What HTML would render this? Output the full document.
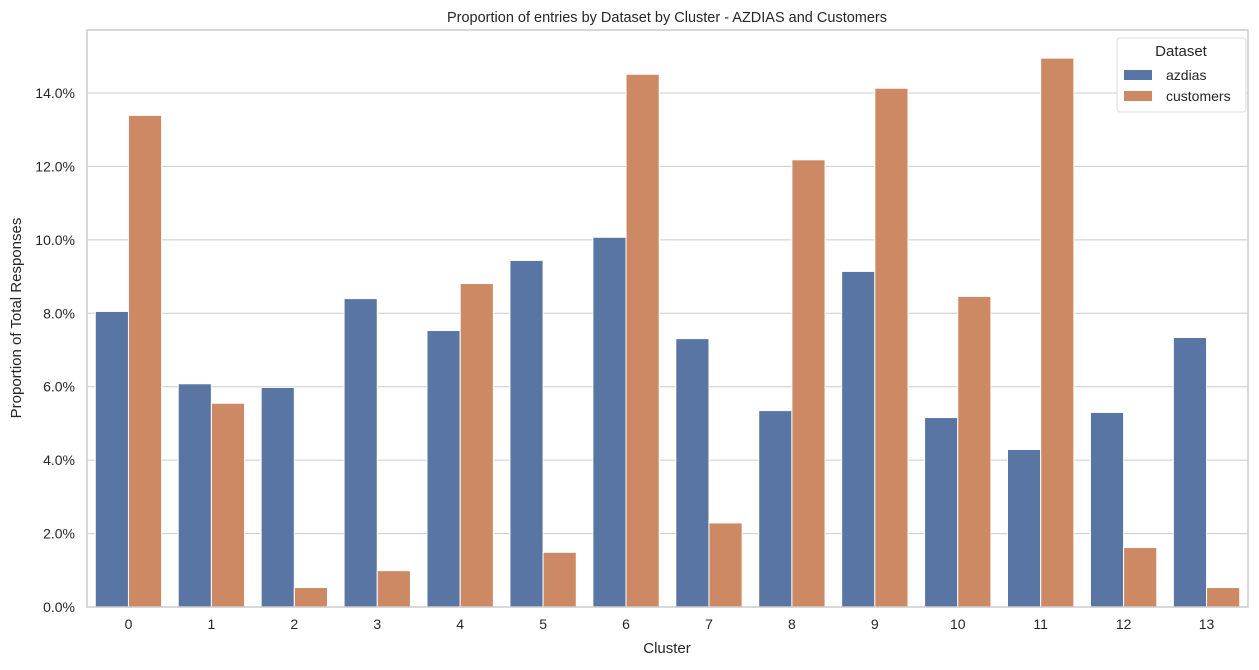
<!DOCTYPE html>
<html><head><meta charset="utf-8"><style>
body{margin:0;background:#fff;font-family:"Liberation Sans",sans-serif}
svg text{font-family:"Liberation Sans",sans-serif;fill:#262626}
</style></head><body>
<svg id="chart" width="1259" height="665" xmlns="http://www.w3.org/2000/svg">
<text x="667" y="22" text-anchor="middle" font-size="14.5">Proportion of entries by Dataset by Cluster - AZDIAS and Customers</text>
<g id="grid"></g><g id="bars"></g><g id="axes"></g>
<text x="667" y="653" text-anchor="middle" font-size="15">Cluster</text>
<text transform="translate(21,318) rotate(-90)" text-anchor="middle" font-size="15">Proportion of Total Responses</text>
<g>
<rect x="1117" y="38" width="129" height="74" rx="3" fill="#fff" stroke="#ddd"/>
<text x="1181" y="56" text-anchor="middle" font-size="15">Dataset</text>
<rect x="1124" y="70" width="28" height="10" fill="#5875a4"/>
<text x="1166" y="80" font-size="14">azdias</text>
<rect x="1124" y="91" width="28" height="10" fill="#cc8963"/>
<text x="1166" y="101" font-size="14">customers</text>
</g>
</svg>
<script>
const categories=["0","1","2","3","4","5","6","7","8","9","10","11","12","13"];
const azdias=[8.05,6.08,5.98,8.40,7.53,9.44,10.07,7.31,5.35,9.14,5.16,4.29,5.30,7.34];
const customers=[13.39,5.55,0.53,0.99,8.81,1.49,14.51,2.29,12.18,14.13,8.46,14.95,1.62,0.53];
const yTicks=[0,2,4,6,8,10,12,14];
const L=87,R=1248,T=30,B=607,Y14=93;
const ns="http://www.w3.org/2000/svg";
function y(v){return B-(B-Y14)*v/14;}
const band=(R-L)/categories.length;
function x(i){return L+band*i;}
function mk(t,a,p){const e=document.createElementNS(ns,t);for(const k in a)e.setAttribute(k,a[k]);p.appendChild(e);return e;}
const grid=document.getElementById('grid'),bars=document.getElementById('bars'),axes=document.getElementById('axes');
yTicks.forEach(v=>{
 const g=mk('line',{x1:L,x2:R,y1:y(v),y2:y(v),stroke:'#cccccc','stroke-width':1},grid);
 
 
 const t=mk('text',{x:L-12,y:y(v)+5,'text-anchor':'end','font-size':14},axes);
 
 
 t.textContent=v.toFixed(1)+'%';
});
const bw=band*0.4;
categories.forEach((c,i)=>{
 const cx=x(i)+band/2;
 const a=mk('rect',{x:cx-bw,y:y(azdias[i]),width:bw,height:B-y(azdias[i]),fill:'#5875a4',stroke:'#fff','stroke-width':1},bars);
 
 
 const b=mk('rect',{x:cx,y:y(customers[i]),width:bw,height:B-y(customers[i]),fill:'#cc8963',stroke:'#fff','stroke-width':1},bars);
 
 
 const t=mk('text',{x:cx,y:B+22,'text-anchor':'middle','font-size':14},axes);
 
 
 t.textContent=c;
});
const fr=mk('rect',{x:L,y:T,width:R-L,height:B-T,fill:'none',stroke:'#cccccc','stroke-width':1.5},axes);


</script>
</body></html>
